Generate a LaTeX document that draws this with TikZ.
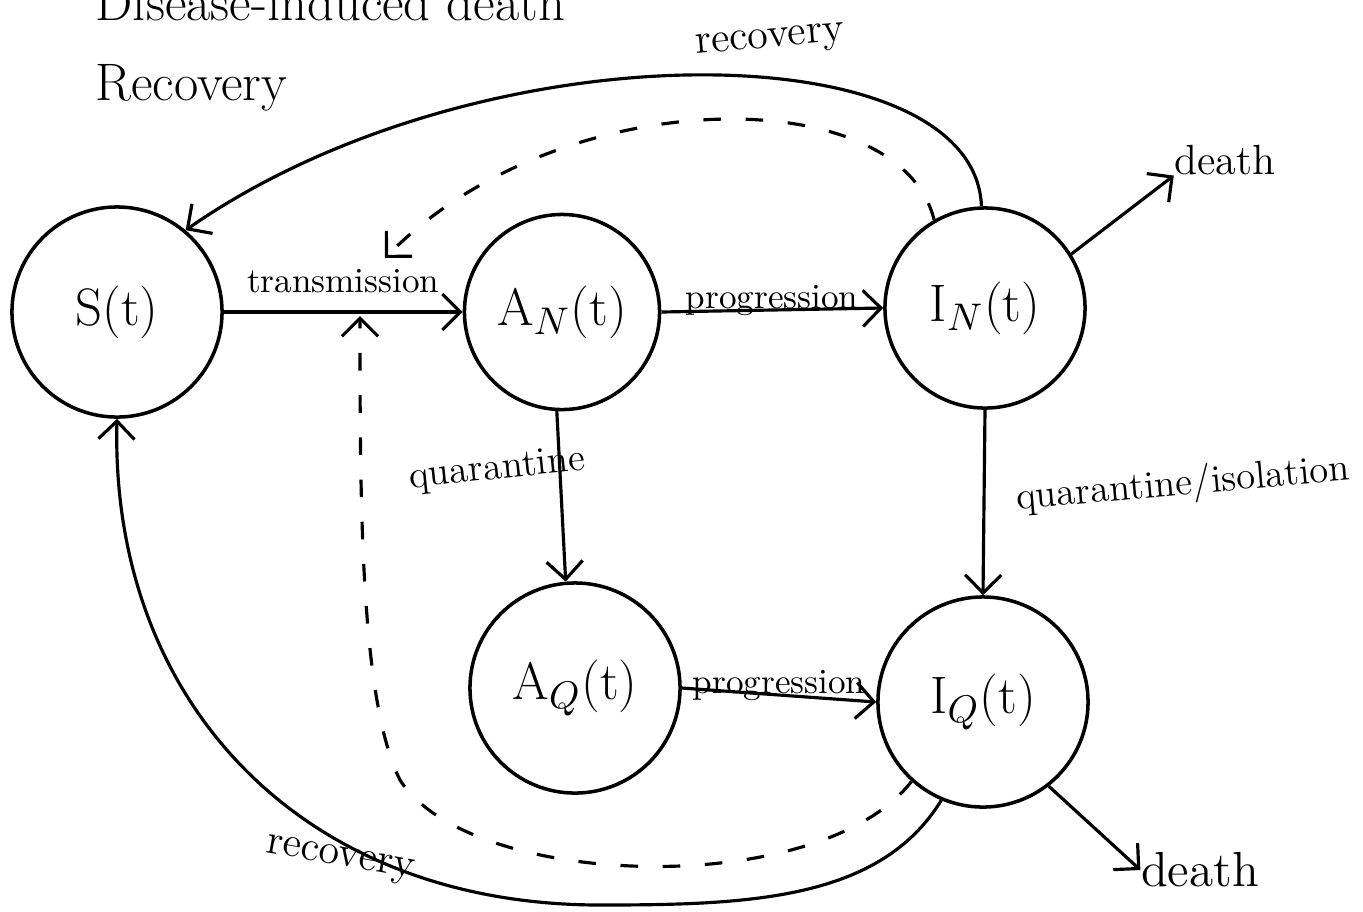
\documentclass[tikz,border=0pt]{standalone}
\usetikzlibrary{arrows.meta}
\begin{document}
\begin{tikzpicture}[x=0.01cm,y=-0.01cm,
  comp/.style={circle,draw,line width=1pt,inner sep=0pt,font=\fontsize{15}{18}\selectfont},
  flow/.style={line width=0.9pt,-{Straight Barb[length=1.8mm,width=3.6mm]}},
  infl/.style={flow,dash pattern=on 5pt off 7pt},
  lbl/.style={font=\fontsize{10}{12}\selectfont,inner sep=1pt},
  big/.style={font=\fontsize{15}{18}\selectfont,inner sep=0pt}]
\useasboundingbox (0,0) rectangle (1363,911);
% compartments
\node[comp,minimum size=2.1cm] (S) at (117,312) {S(t)};
\node[comp,minimum size=1.95cm] (AN) at (562,312) {A$_N$(t)};
\node[comp,minimum size=2.0cm] (IN) at (985,308) {I$_N$(t)};
\node[comp,minimum size=2.1cm] (AQ) at (575,688) {A$_Q$(t)};
\node[comp,minimum size=2.1cm] (IQ) at (983,702) {I$_Q$(t)};
% top-left notes
\node[big,anchor=base west] (dis) at (95,20) {Disease-induced death};
\node[big,anchor=base west] (rec) at (95,100) {Recovery};
% main flows
\draw[flow] (S.east) -- node[lbl,above=4pt] (ltr) {transmission} (AN.west);
\draw[flow] (AN.east) -- node[lbl,above=-3pt] (lp1) {progression} (IN.west);
\draw[flow] (AN.-93) -- (AQ.95);
\node[lbl,rotate=6,font=\fontsize{11}{13}\selectfont] (lq1) at (497,470) {quarantine};
\draw[flow] (IN.south) -- (IQ.north);
\node[lbl,rotate=5,font=\fontsize{11}{13}\selectfont] (lq2) at (1183,485) {quarantine/isolation};
\draw[flow] (AQ.east) -- node[lbl,above=-3pt] (lp2) {progression} (IQ.west);
% deaths
\node[big,font=\fontsize{12}{14}\selectfont] (d1) at (1225,160) {death};
\node[big,font=\fontsize{14}{16}\selectfont] (d2) at (1200,870) {death};
\draw[flow] (IN.32) -- (d1.south west);
\draw[flow] (IQ.-52) -- (d2.west);
% recoveries
\draw[flow] (IN.92) .. controls (975,30) and (480,25) .. (S.50);
\node[lbl,rotate=5,font=\fontsize{12}{14}\selectfont] (lr1) at (770,42) {recovery};
\draw[flow] (IQ.-113) .. controls (880,900) and (750,905) .. (600,905)
   .. controls (300,905) and (110,700) .. (S.south);
\node[lbl,rotate=-10,font=\fontsize{12}{14}\selectfont] (lr2) at (340,860) {recovery};
% influence of infectives on transmission
\coordinate (tA) at (385,258);
\coordinate (tB) at (360,316);
\draw[infl] (IN.120) .. controls (900,80) and (560,80) .. (tA);
\draw[infl] (IQ.-132) .. controls (820,900) and (470,890) .. (400,780)
   .. controls (360,700) and (360,500) .. (tB);
\end{tikzpicture}
\end{document}
